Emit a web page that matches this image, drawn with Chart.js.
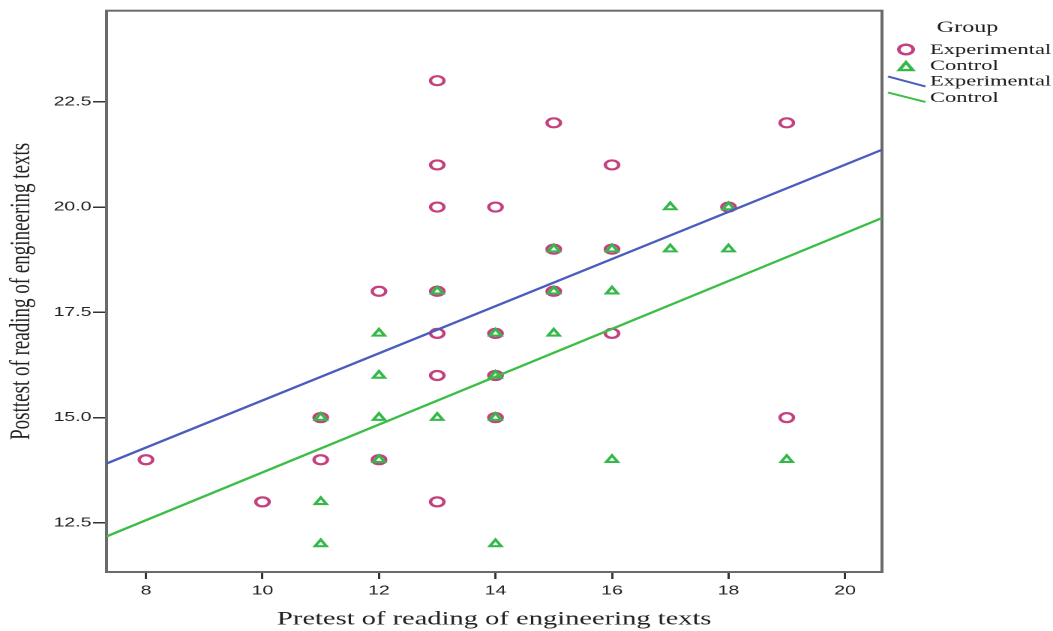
<!DOCTYPE html>
<html><head><meta charset="utf-8">
<script src="https://cdn.jsdelivr.net/npm/chart.js@4.4.1/dist/chart.umd.min.js"></script>
<style>html,body{margin:0;padding:0;background:#fff;} canvas{display:block;}</style>
</head><body>
<canvas id="c" width="702" height="631" style="width:1053px;height:631px"></canvas>
<script>
// ---- data ----
const expX = [8,10,11,11,12,12,13,13,13,13,13,13,13,14,14,14,14,15,15,15,16,16,16,18,19,19];
const expY = [14,13,15,14,18,14,23,21,20,18,17,16,13,20,17,16,15,22,19,18,21,19,17,20,22,15];
const ctrlX = [11,11,11,12,12,12,12,13,13,14,14,14,14,15,15,15,16,16,16,17,17,18,18,19];
const ctrlY = [15,13,12,17,16,15,14,18,15,17,16,15,12,19,18,17,19,18,14,20,19,20,19,14];
const fitX = [7.322, 20.635];
const expFitY = [13.91, 21.36];
const ctrlFitY = [12.18, 19.74];
const xTicks = [8,10,12,14,16,18,20];
const xTickLabels = ['8','10','12','14','16','18','20'];
const yTicks = [12.5,15,17.5,20,22.5];
const yTickLabels = ['12.5','15.0','17.5','20.0','22.5'];
const seriesNames = ['Experimental','Control'];
const legendTitle = 'Group';
const xTitle = 'Pretest of reading of engineering texts';
const yTitle = 'Posttest of reading of engineering texts';
const xRange = [7.322, 20.635];
const yRange = [11.335, 24.662];

const MAGENTA = '#c4407f';
const GREEN = '#35b84a';
const BLUE = '#4a5cbc';
const LGREEN = '#3cbd45';
const SERIF = 'Liberation Serif';
const SANS = 'Liberation Sans';

const toPts = (xs, ys) => xs.map((x, i) => ({x: x, y: ys[i]}));

const framePlugin = {
  id: 'frame',
  beforeDatasetsDraw(chart) {
    const {ctx, chartArea: a} = chart;
    ctx.save();
    ctx.strokeStyle = '#6a6a6a';
    ctx.lineWidth = 2;
    ctx.strokeRect(a.left, a.top, a.right - a.left, a.bottom - a.top);
    ctx.restore();
  }
};

const legendPlugin = {
  id: 'spssLegend',
  afterDraw(chart) {
    const ctx = chart.ctx;
    ctx.save();
    ctx.fillStyle = '#1a1a1a';
    ctx.textBaseline = 'middle';
    ctx.font = '16px "' + SERIF + '"';
    ctx.textAlign = 'center';
    ctx.fillText(legendTitle, 645, 28);
    ctx.font = '15px "' + SERIF + '"';
    ctx.textAlign = 'left';
    const tx = 620;
    ctx.strokeStyle = MAGENTA; ctx.lineWidth = 2.4;
    ctx.beginPath(); ctx.arc(604, 49.5, 4.8, 0, Math.PI * 2); ctx.stroke();
    ctx.fillText(seriesNames[0], tx, 50);
    ctx.strokeStyle = GREEN; ctx.lineWidth = 2.4;
    const r = 5.2, cx = 604, cy = 67.5;
    ctx.beginPath();
    ctx.moveTo(cx, cy - r);
    ctx.lineTo(cx + r * 0.866, cy + r * 0.5);
    ctx.lineTo(cx - r * 0.866, cy + r * 0.5);
    ctx.closePath(); ctx.stroke();
    ctx.fillText(seriesNames[1], tx, 66);
    ctx.lineWidth = 2;
    ctx.strokeStyle = BLUE;
    ctx.beginPath(); ctx.moveTo(592, 76.5); ctx.lineTo(617, 86.5); ctx.stroke();
    ctx.fillText(seriesNames[0], tx, 81.5);
    ctx.strokeStyle = LGREEN;
    ctx.beginPath(); ctx.moveTo(592, 92.5); ctx.lineTo(617, 102); ctx.stroke();
    ctx.fillText(seriesNames[1], tx, 98);
    ctx.restore();
  }
};

new Chart(document.getElementById('c'), {
  type: 'scatter',
  data: {
    datasets: [
      {label: seriesNames[0] + ' fit', type: 'line', data: toPts(fitX, expFitY), borderColor: BLUE, borderWidth: 2.2, pointRadius: 0, fill: false, order: 0},
      {label: seriesNames[1] + ' fit', type: 'line', data: toPts(fitX, ctrlFitY), borderColor: LGREEN, borderWidth: 2.2, pointRadius: 0, fill: false, order: 0},
      {label: seriesNames[1], data: toPts(ctrlX, ctrlY), pointStyle: 'triangle', pointRadius: 4.4, borderWidth: 2.1, borderColor: GREEN, backgroundColor: '#ffffff', order: 1},
      {label: seriesNames[0], data: toPts(expX, expY), pointStyle: 'circle', pointRadius: 4.5, borderWidth: 2.2, borderColor: MAGENTA, backgroundColor: '#ffffff', order: 2}
    ]
  },
  options: {
    responsive: false,
    devicePixelRatio: 2,
    animation: false,
    layout: {padding: {left: 0, top: 10.7, right: 114, bottom: 0}},
    plugins: {legend: {display: false}, tooltip: {enabled: false}},
    scales: {
      x: {
        type: 'linear', min: xRange[0], max: xRange[1],
        afterBuildTicks: s => { s.ticks = xTicks.map(v => ({value: v})); },
        afterFit: s => { s.height = 59; },
        ticks: {callback: (v, i) => xTickLabels[i], font: {family: SANS, size: 13}, color: '#222', padding: 4, maxRotation: 0, autoSkip: false},
        grid: {drawOnChartArea: false, drawTicks: true, tickLength: 7, color: '#333', lineWidth: 1.5},
        border: {display: false},
        title: {display: true, text: xTitle, font: {family: SERIF, size: 19}, color: '#222', padding: {top: 0, bottom: 0}}
      },
      y: {
        type: 'linear', min: yRange[0], max: yRange[1],
        afterBuildTicks: s => { s.ticks = yTicks.map(v => ({value: v})); },
        afterFit: s => { s.width = 71; },
        ticks: {callback: (v, i) => yTickLabels[i], font: {family: SANS, size: 13}, color: '#222', padding: 1, autoSkip: false},
        grid: {drawOnChartArea: false, drawTicks: true, tickLength: 9, color: '#333', lineWidth: 1.5},
        border: {display: false},
        title: {display: true, text: yTitle, font: {family: SERIF, size: 19}, color: '#222', padding: {top: 3, bottom: 0}}
      }
    }
  },
  plugins: [framePlugin, legendPlugin]
});
</script>
</body></html>
